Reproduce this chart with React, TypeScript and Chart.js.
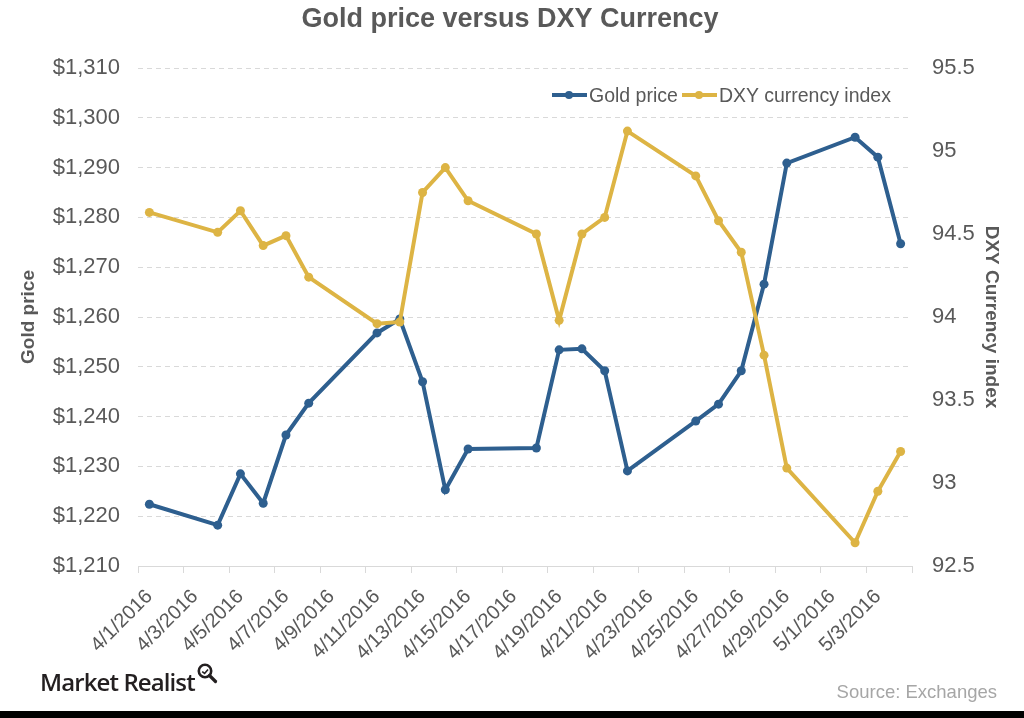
import React, { useEffect, useRef } from "react";
import { Chart, registerables } from "chart.js";

Chart.register(...registerables);

// Every calendar day on the date axis (one category per day)
const calendarDays = [
  "4/1/2016", "4/2/2016", "4/3/2016", "4/4/2016", "4/5/2016", "4/6/2016",
  "4/7/2016", "4/8/2016", "4/9/2016", "4/10/2016", "4/11/2016", "4/12/2016",
  "4/13/2016", "4/14/2016", "4/15/2016", "4/16/2016", "4/17/2016", "4/18/2016",
  "4/19/2016", "4/20/2016", "4/21/2016", "4/22/2016", "4/23/2016", "4/24/2016",
  "4/25/2016", "4/26/2016", "4/27/2016", "4/28/2016", "4/29/2016", "4/30/2016",
  "5/1/2016", "5/2/2016", "5/3/2016", "5/4/2016",
];

// Trading days that carry a quote
const tradingDates = [
  "4/1/2016", "4/4/2016", "4/5/2016", "4/6/2016", "4/7/2016", "4/8/2016",
  "4/11/2016", "4/12/2016", "4/13/2016", "4/14/2016", "4/15/2016",
  "4/18/2016", "4/19/2016", "4/20/2016", "4/21/2016", "4/22/2016",
  "4/25/2016", "4/26/2016", "4/27/2016", "4/28/2016", "4/29/2016",
  "5/2/2016", "5/3/2016", "5/4/2016",
];

const goldPrice = [
  1222.4, 1218.2, 1228.5, 1222.6, 1236.3, 1242.7,
  1256.8, 1259.6, 1247.0, 1225.3, 1233.5,
  1233.7, 1253.4, 1253.6, 1249.2, 1229.1,
  1239.1, 1242.5, 1249.2, 1266.6, 1290.9,
  1296.1, 1292.1, 1274.7,
];

const dxyIndex = [
  94.63, 94.51, 94.64, 94.43, 94.49, 94.24,
  93.96, 93.97, 94.75, 94.9, 94.7,
  94.5, 93.98, 94.5, 94.6, 95.12,
  94.85, 94.58, 94.39, 93.77, 93.09,
  92.64, 92.95, 93.19,
];

const BLUE = "#2e5f8f";
const GOLD = "#ddb444";
const TEXT = "#595959";
const GRID = "#d9d9d9";
const FONT = "'Liberation Sans', Arial, sans-serif";

const W = 1024;
const H = 718;

function LegendItem({ color, label, left }: { color: string; label: string; left: number }) {
  return (
    <div style={{ position: "absolute", left, top: 83, height: 24, display: "flex", alignItems: "center" }}>
      <div style={{ position: "relative", width: 35, height: 24, marginRight: 2 }}>
        <div style={{ position: "absolute", left: 0, top: 10, width: 35, height: 4, background: color }} />
        <div style={{ position: "absolute", left: 13, top: 8, width: 8, height: 8, borderRadius: 4, background: color }} />
      </div>
      <span style={{ fontFamily: FONT, fontSize: 19.5, color: TEXT, whiteSpace: "nowrap" }}>{label}</span>
    </div>
  );
}

export default function App() {
  const canvasRef = useRef<HTMLCanvasElement | null>(null);

  useEffect(() => {
    const canvas = canvasRef.current;
    if (!canvas) return;

    const chart = new Chart(canvas, {
      type: "line",
      data: {
        labels: calendarDays,
        datasets: [
          {
            label: "Gold price",
            data: tradingDates.map((d, i) => ({ x: d, y: goldPrice[i] })),
            yAxisID: "y",
            borderColor: BLUE,
            backgroundColor: BLUE,
            borderWidth: 4,
            pointRadius: 4.5,
            pointBorderWidth: 0,
            pointBackgroundColor: BLUE,
            tension: 0,
            order: 1,
          },
          {
            label: "DXY currency index",
            data: tradingDates.map((d, i) => ({ x: d, y: dxyIndex[i] })),
            yAxisID: "y1",
            borderColor: GOLD,
            backgroundColor: GOLD,
            borderWidth: 4,
            pointRadius: 4.5,
            pointBorderWidth: 0,
            pointBackgroundColor: GOLD,
            tension: 0,
            order: 0,
          },
        ],
      },
      options: {
        responsive: false,
        animation: false,
        layout: { padding: { left: 12, right: 16, top: 0, bottom: 0 } },
        plugins: {
          legend: { display: false },
          tooltip: { enabled: false },
          title: {
            display: true,
            text: "Gold price versus DXY Currency",
            color: TEXT,
            font: { family: FONT, size: 27, weight: "bold" },
            padding: { top: 3, bottom: 32.6 },
          },
        },
        scales: {
          x: {
            type: "category",
            offset: true,
            grid: {
              offset: true,
              drawOnChartArea: false,
              drawTicks: true,
              tickLength: 7,
              lineWidth: 1,
              color: (ctx: any) => (!(ctx.index % 2) ? GRID : "rgba(0,0,0,0)"),
            },
            border: { display: true, color: GRID, width: 1 },
            ticks: {
              autoSkip: false,
              minRotation: 45,
              maxRotation: 45,
              padding: 12,
              color: TEXT,
              font: { family: FONT, size: 20 },
              callback: function (this: any, v: any, i: number) {
                return i % 2 === 0 ? this.getLabelForValue(v) : "";
              },
            },
            afterFit: (s: any) => {
              s.height = 152;
            },
          },
          y: {
            position: "left",
            min: 1210,
            max: 1310,
            ticks: {
              stepSize: 10,
              padding: 18,
              color: TEXT,
              font: { family: FONT, size: 22 },
              callback: (v: any) => "$" + Number(v).toLocaleString("en-US"),
            },
            grid: { color: GRID, lineWidth: 1, drawTicks: false },
            border: { display: false, dash: [5, 4] },
            title: {
              display: true,
              text: "Gold price",
              color: TEXT,
              font: { family: FONT, size: 19, weight: "bold" },
              padding: { top: 5, bottom: 0 },
            },
            afterFit: (s: any) => {
              s.width = 126;
            },
          },
          y1: {
            position: "right",
            min: 92.5,
            max: 95.5,
            ticks: {
              stepSize: 0.5,
              padding: 20,
              color: TEXT,
              font: { family: FONT, size: 22 },
              callback: (v: any) => String(Number(v)),
            },
            grid: { drawOnChartArea: false, drawTicks: false },
            border: { display: false },
            title: {
              display: true,
              text: "DXY Currency index",
              color: TEXT,
              font: { family: FONT, size: 19, weight: "bold" },
              padding: { top: 5, bottom: 0 },
            },
            afterFit: (s: any) => {
              s.width = 96;
            },
          },
        },
      } as any,
    });

    return () => chart.destroy();
  }, []);

  return (
    <div
      style={{
        position: "absolute",
        left: 0,
        top: 0,
        width: W,
        height: H,
        background: "#fff",
        overflow: "hidden",
      }}
    >
      <canvas ref={canvasRef} width={W} height={H} style={{ position: "absolute", left: 0, top: 0, width: W, height: H }} />

      <LegendItem color={BLUE} label="Gold price" left={552} />
      <LegendItem color={GOLD} label="DXY currency index" left={682} />

      <div
        style={{
          position: "absolute",
          left: 40,
          top: 665,
          fontFamily: "'Open Sans', sans-serif",
          fontWeight: 600,
          fontSize: 24,
          letterSpacing: -0.9,
          color: "#231f20",
          whiteSpace: "nowrap",
          display: "flex",
          alignItems: "flex-start",
        }}
      >
        <span>Market Realist</span>
        <svg width="24" height="24" viewBox="0 0 24 24" style={{ marginLeft: 1, marginTop: -3 }}>
          <circle cx="9" cy="9" r="6.2" fill="none" stroke="#231f20" strokeWidth="2.6" />
          <path d="M6.2 9.6 L8.6 11.4 L12 7.4" fill="none" stroke="#231f20" strokeWidth="1.6" />
          <path d="M13.5 13.5 L19.5 19.5" stroke="#231f20" strokeWidth="3.2" strokeLinecap="round" />
        </svg>
      </div>

      <div
        style={{
          position: "absolute",
          right: 27,
          top: 681,
          fontFamily: FONT,
          fontSize: 18.5,
          color: "#a6a6a6",
          whiteSpace: "nowrap",
        }}
      >
        Source: Exchanges
      </div>

      <div style={{ position: "absolute", left: 0, top: 711, width: W, height: H - 711, background: "#000" }} />
    </div>
  );
}
